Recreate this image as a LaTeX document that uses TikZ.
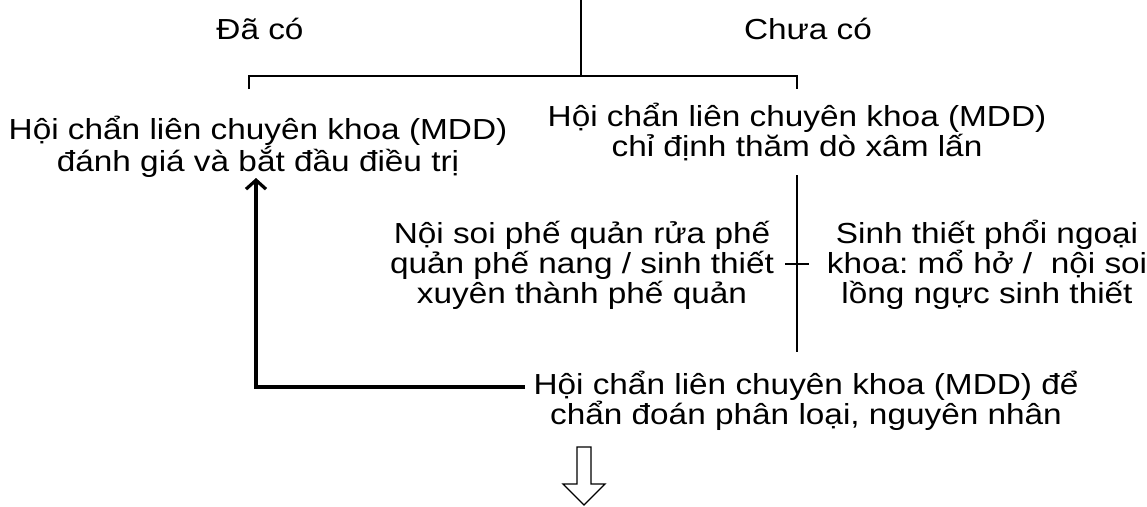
\documentclass[tikz,border=0pt]{standalone}
\usepackage{fontspec}
\setmainfont[FakeStretch=1.15]{Liberation Sans}
\usetikzlibrary{arrows.meta}
\begin{document}
\frenchspacing
\begin{tikzpicture}[x=1pt,y=-1pt,
  txt/.style={align=center, font=\fontsize{29}{30}\selectfont, inner sep=0pt},
  ln/.style={line width=2pt},
  fb/.style={line width=3.2pt, -{Straight Barb[length=9pt,width=20pt,line width=3.2pt]}},
  hollow/.style={line width=1.3pt, fill=white, line join=miter}]
\useasboundingbox (0,0) rectangle (1147,506);
\node[txt] (da) at (260,29) {Đã có};
\node[txt] (chua) at (808,29) {Chưa có};
\coordinate (top) at (581,0);
\coordinate (j) at (581,76);
\coordinate (jl) at (249,76);
\coordinate (jr) at (797,76);
\coordinate (jlb) at (249,89);
\coordinate (jrb) at (797,89);
\draw[ln] (top) -- (j);
\draw[ln] (jlb) -- (jl) -- (jr) -- (jrb);
\node[txt] (lnode) at (258,147) {Hội chẩn liên chuyên khoa (MDD)\\đánh giá và bắt đầu điều trị};
\node[txt] (rnode) at (797,132) {Hội chẩn liên chuyên khoa (MDD)\\chỉ định thăm dò xâm lấn};
\coordinate (v1) at (797,175);
\coordinate (v2) at (797,352);
\coordinate (c1) at (785,264);
\coordinate (c2) at (809,264);
\draw[ln] (v1) -- (v2);
\draw[ln] (c1) -- (c2);
\node[txt] (bal) at (582,265) {Nội soi phế quản rửa phế\\quản phế nang / sinh thiết\\xuyên thành phế quản};
\node[txt] (surg) at (987,265) {Sinh thiết phổi ngoại\\khoa: mổ hở /\ \ nội soi\\lồng ngực sinh thiết};
\node[txt] (mdd) at (806,401) {Hội chẩn liên chuyên khoa (MDD) để\\chẩn đoán phân loại, nguyên nhân};
\coordinate (fbstart) at (525,387);
\coordinate (fbtip) at (256,178);
\draw[fb] (fbstart) -| (fbtip);
\draw[hollow] (577,447) -- (591,447) -- (591,484) -- (605,484) -- (584,505) -- (563,484) -- (577,484) -- cycle;
\end{tikzpicture}
\end{document}
